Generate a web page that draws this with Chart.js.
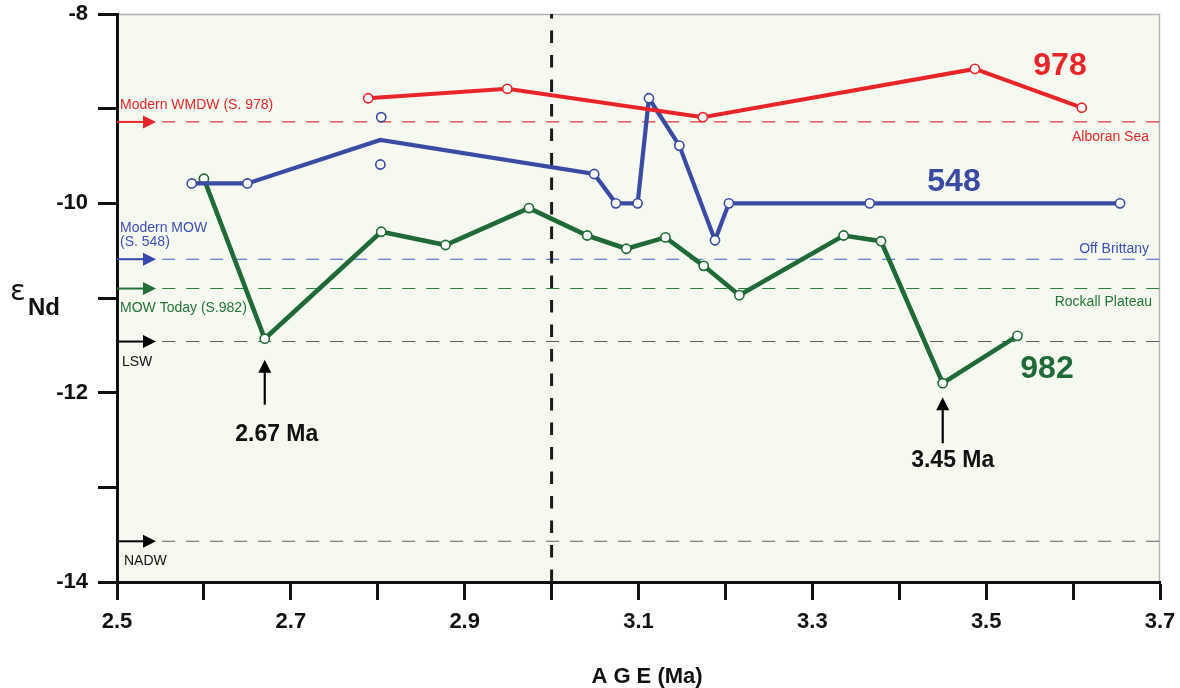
<!DOCTYPE html>
<html>
<head>
<meta charset="utf-8">
<script src="https://cdn.jsdelivr.net/npm/chart.js@4.4.1/dist/chart.umd.min.js"></script>
<style>
  html, body { margin: 0; padding: 0; background: #ffffff; }
  #wrap { width: 1180px; height: 688px; }
</style>
</head>
<body>
<div id="wrap"><canvas id="c" width="1180" height="688"></canvas></div>
<script>
const FONT = '"Liberation Sans", Arial, Helvetica, sans-serif';

// ODP Site 978 (Alboran Sea)
const site978Age = [2.789, 2.949, 3.174, 3.487, 3.610];
const site978Eps = [-8.89, -8.79, -9.09, -8.58, -8.99];

// DSDP Site 548 (off Brittany)
const site548Age = [2.586, 2.650, 2.803, 3.049, 3.074, 3.099, 3.112, 3.147, 3.188, 3.204, 3.366, 3.654];
const site548Eps = [-9.79, -9.79, -9.33, -9.69, -10.0, -10.0, -8.89, -9.39, -10.39, -10.0, -10.0, -10.0];
const site548MeanIndex = 2;            // line vertex at the mean of a replicate pair (no marker)
const site548RepAge = [2.804, 2.803];  // the replicate pair itself
const site548RepEps = [-9.09, -9.59];

// ODP Site 982 (Rockall Plateau)
const site982Age = [2.600, 2.67, 2.804, 2.878, 2.974, 3.041, 3.086, 3.131, 3.175, 3.216, 3.336, 3.379, 3.45, 3.536];
const site982Eps = [-9.74, -11.43, -10.30, -10.44, -10.05, -10.34, -10.48, -10.36, -10.66, -10.97, -10.34, -10.40, -11.90, -11.40];

// present-day water mass signatures
const modernLabels = [['Modern WMDW (S. 978)'], ['Modern MOW', '(S. 548)'], ['MOW Today (S.982)'], ['LSW'], ['NADW']];
const modernEps = [-9.14, -10.59, -10.90, -11.46, -13.57];
const regionLabels = ['Alboran Sea', 'Off Brittany', 'Rockall Plateau'];

// marked events and the 3.0 Ma boundary
const eventAges = [2.67, 3.45];
const eventLabels = ['2.67 Ma', '3.45 Ma'];
const boundaryAge = 3.0;

const xTickLabels = ['2.5', '2.7', '2.9', '3.1', '3.3', '3.5', '3.7'];
const yTickLabels = ['-8', '-10', '-12', '-14'];

const RED = '#e8262a', BLUE = '#3a4ba3', GREEN = '#1f6a36';
const refLineColors = ['#e0363a', '#3d5cc6', '#2e7d40', '#5c5c5c', '#5c5c5c'];
const refArrowColors = ['#e8262a', '#3448b0', '#22703a', '#000000', '#000000'];
const refTextColors = ['#e32a2a', '#3f50b2', '#257238', '#111111', '#111111'];

const toPts = (xs, ys) => xs.map((x, i) => ({ x: x, y: ys[i] }));

function seriesDataset(label, xs, ys, color, width) {
  return {
    label: label,
    data: toPts(xs, ys),
    borderColor: color,
    borderWidth: width,
    pointBackgroundColor: '#ffffff',
    pointBorderColor: color,
    pointBorderWidth: 1.6,
    pointRadius: 4.6,
    tension: 0,
    order: 1
  };
}

const datasets = [];
datasets.push(seriesDataset('978', site978Age, site978Eps, RED, 4));
const ds548 = seriesDataset('548', site548Age, site548Eps, BLUE, 4.2);
ds548.pointRadius = ctx => (ctx.dataIndex === site548MeanIndex ? 0 : 4.6);
datasets.push(ds548);
datasets.push({
  label: '548 replicates',
  data: toPts(site548RepAge, site548RepEps),
  showLine: false,
  pointBackgroundColor: '#ffffff',
  pointBorderColor: BLUE,
  pointBorderWidth: 1.6,
  pointRadius: 4.6,
  order: 1
});
datasets.push(seriesDataset('982', site982Age, site982Eps, GREEN, 4.6));

// dashed reference levels
modernEps.forEach((v, i) => {
  datasets.push({
    label: 'ref' + i,
    data: [{ x: 2.552, y: v }, { x: 3.7, y: v }],
    borderColor: refLineColors[i],
    borderWidth: 1.1,
    borderDash: [13, 11],
    pointRadius: 0,
    order: 5
  });
});
// 3.0 Ma boundary
datasets.push({
  label: 'boundary',
  data: [{ x: boundaryAge, y: -14 }, { x: boundaryAge, y: -8 }],
  borderColor: '#1c1c1c',
  borderWidth: 3,
  borderDash: [12.5, 12],
  pointRadius: 0,
  order: 4
});

function arrowRight(ctx, x0, x1, y, color) {
  ctx.strokeStyle = color; ctx.fillStyle = color; ctx.lineWidth = 2;
  ctx.beginPath(); ctx.moveTo(x0, y); ctx.lineTo(x1 - 10, y); ctx.stroke();
  ctx.beginPath(); ctx.moveTo(x1, y); ctx.lineTo(x1 - 13, y - 6.5); ctx.lineTo(x1 - 13, y + 6.5); ctx.closePath(); ctx.fill();
}
function arrowUp(ctx, x, yTip, yEnd, color) {
  ctx.strokeStyle = color; ctx.fillStyle = color; ctx.lineWidth = 2.2;
  ctx.beginPath(); ctx.moveTo(x, yEnd); ctx.lineTo(x, yTip + 10); ctx.stroke();
  ctx.beginPath(); ctx.moveTo(x, yTip); ctx.lineTo(x - 6.5, yTip + 13); ctx.lineTo(x + 6.5, yTip + 13); ctx.closePath(); ctx.fill();
}

const decor = {
  id: 'decor',
  beforeDraw(chart) {
    const { ctx, chartArea: a } = chart;
    ctx.save();
    ctx.fillStyle = '#f6f9f0';
    ctx.fillRect(a.left, a.top, a.right - a.left, a.bottom - a.top);
    ctx.strokeStyle = '#b3b3b3';
    ctx.lineWidth = 1.5;
    ctx.beginPath();
    ctx.moveTo(a.left, a.top + 0.5);
    ctx.lineTo(a.right - 0.5, a.top + 0.5);
    ctx.lineTo(a.right - 0.5, a.bottom);
    ctx.stroke();
    ctx.restore();
  },
  afterDatasetsDraw(chart) {
    const { ctx, chartArea: a, scales: { x: xs, y: ys } } = chart;
    ctx.save();

    // arrows and names for the present-day levels
    const textDy = [[-13], [-27, -13], [23], [24], [24]];
    const textX = [120, 120, 120, 122, 124];
    modernEps.forEach((v, i) => {
      const py = ys.getPixelForValue(v);
      arrowRight(ctx, a.left, a.left + 39, py, refArrowColors[i]);
      ctx.fillStyle = refTextColors[i];
      ctx.font = '14px ' + FONT;
      ctx.textAlign = 'left';
      ctx.textBaseline = 'alphabetic';
      modernLabels[i].forEach((t, k) => ctx.fillText(t, textX[i], py + textDy[i][k]));
    });

    // region names at the right end of the first three levels
    const regionDy = [19, -6, 17];
    const regionX = [1149, 1149, 1152];
    regionLabels.forEach((t, i) => {
      const py = ys.getPixelForValue(modernEps[i]);
      ctx.fillStyle = refTextColors[i];
      ctx.font = '14px ' + FONT;
      ctx.textAlign = 'right';
      ctx.fillText(t, regionX[i], py + regionDy[i]);
    });

    // site numbers
    ctx.font = 'bold 32px ' + FONT;
    ctx.textAlign = 'center';
    ctx.fillStyle = RED;   ctx.fillText('978', 1060, 75);
    ctx.fillStyle = BLUE;  ctx.fillText('548', 954, 191);
    ctx.fillStyle = GREEN; ctx.fillText('982', 1047, 378);

    // event arrows
    const tipOffset = [21, 14];
    const tailOffset = [66, 60];
    const labelOffset = [102, 84];
    const labelShift = [12, 10];
    eventAges.forEach((age, i) => {
      const px = xs.getPixelForValue(age);
      const idx = site982Age.indexOf(age);
      const py = ys.getPixelForValue(site982Eps[idx]);
      arrowUp(ctx, px, py + tipOffset[i], py + tailOffset[i], '#000');
      ctx.fillStyle = '#111';
      ctx.font = 'bold 23px ' + FONT;
      ctx.textAlign = 'center';
      ctx.fillText(eventLabels[i], px + labelShift[i], py + labelOffset[i]);
    });

    // axis titles
    ctx.fillStyle = '#111';
    ctx.textAlign = 'center';
    ctx.font = 'bold 22px ' + FONT;
    ctx.fillText('A G E (Ma)', 647, 683);
    ctx.textAlign = 'left';
    ctx.font = '29px "DejaVu Sans", sans-serif';
    ctx.fillText('\u03B5', 10, 300);
    ctx.font = 'bold 24px ' + FONT;
    ctx.fillText('Nd', 28, 315);
    ctx.restore();
  }
};

new Chart(document.getElementById('c'), {
  type: 'line',
  data: { datasets: datasets },
  options: {
    responsive: false,
    devicePixelRatio: 1,
    animation: false,
    events: [],
    layout: { padding: { left: 0, right: 20, top: 14, bottom: 0 } },
    plugins: { legend: { display: false }, tooltip: { enabled: false }, title: { display: false } },
    scales: {
      x: {
        type: 'linear',
        min: 2.5, max: 3.7,
        afterFit: s => { s.height = 106; s.paddingLeft = 0; s.paddingRight = 0; },
        ticks: {
          stepSize: 0.1,
          autoSkip: false,
          maxRotation: 0,
          padding: 9,
          color: '#111',
          font: { family: FONT, size: 22, weight: 'bold' },
          callback: v => { const t = (Math.round(v * 10) / 10).toFixed(1); return xTickLabels.includes(t) ? t : ''; }
        },
        grid: { drawOnChartArea: false, drawTicks: true, tickLength: 18, tickWidth: 3, tickColor: '#111' },
        border: { display: true, width: 3, color: '#111' }
      },
      y: {
        type: 'linear',
        min: -14, max: -8,
        afterFit: s => { s.width = 117; s.paddingTop = 0; s.paddingBottom = 0; },
        ticks: {
          stepSize: 1,
          autoSkip: false,
          padding: 10,
          color: '#111',
          font: { family: FONT, size: 22, weight: 'bold' },
          callback: v => { const t = String(Math.round(v)); return yTickLabels.includes(t) ? t : ''; }
        },
        grid: { drawOnChartArea: false, drawTicks: true, tickLength: 19, tickWidth: 3, tickColor: '#111' },
        border: { display: true, width: 3, color: '#111' }
      }
    }
  },
  plugins: [decor]
});
</script>
</body>
</html>
